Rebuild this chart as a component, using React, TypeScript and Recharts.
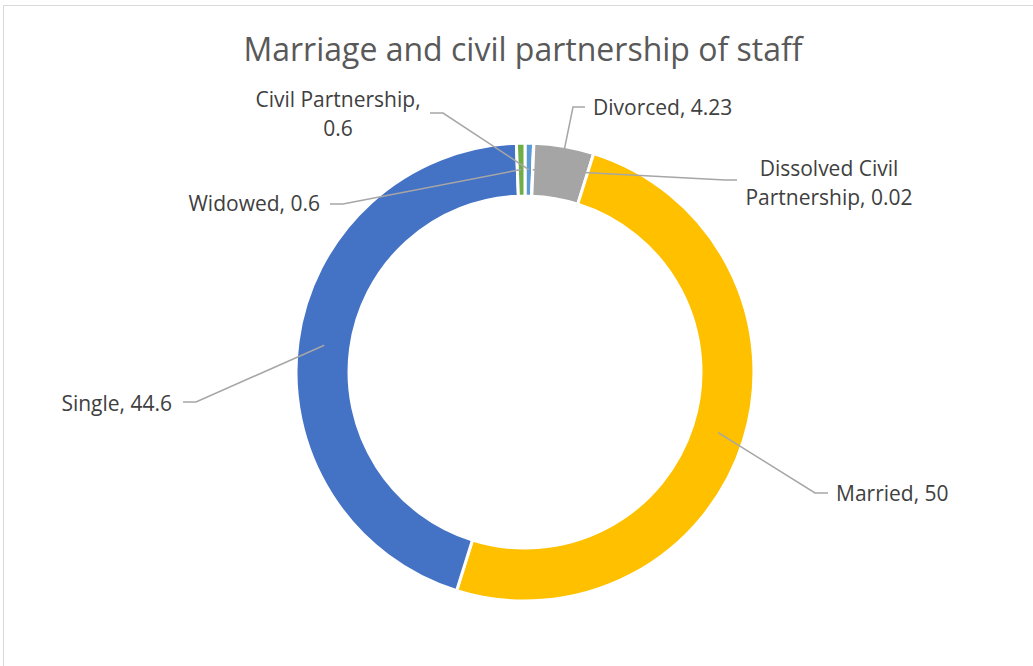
import { PieChart, Pie, Cell } from "recharts";

const categories = [
  "Civil Partnership",
  "Dissolved Civil Partnership",
  "Divorced",
  "Married",
  "Single",
  "Widowed",
];
const values = [0.6, 0.02, 4.23, 50, 44.6, 0.6];
const colors = ["#5B9BD5", "#ED7D31", "#A5A5A5", "#FFC000", "#4472C4", "#70AD47"];

const chartTitle = "Marriage and civil partnership of staff";

// where each data label sits (Excel moved them by hand)
const labelLayout: Record<
  string,
  { lines: string[]; x: number; y: number; anchor: "start" | "middle" | "end"; elbow: [number, number]; end: [number, number] }
> = {
  "Civil Partnership": { lines: ["Civil Partnership,", "0.6"], x: 338, y: 107, anchor: "middle", elbow: [443, 113], end: [430, 113] },
  "Dissolved Civil Partnership": { lines: ["Dissolved Civil", "Partnership, 0.02"], x: 829, y: 176, anchor: "middle", elbow: [725, 180], end: [737, 180] },
  Divorced: { lines: ["Divorced, 4.23"], x: 593, y: 115, anchor: "start", elbow: [573, 107], end: [585, 107] },
  Married: { lines: ["Married, 50"], x: 836, y: 501, anchor: "start", elbow: [815, 493], end: [828, 493] },
  Single: { lines: ["Single, 44.6"], x: 172, y: 411, anchor: "end", elbow: [196, 402], end: [183, 402] },
  Widowed: { lines: ["Widowed, 0.6"], x: 320, y: 211, anchor: "end", elbow: [343, 204], end: [330, 204] },
};

const data = categories.map((name, i) => ({ name, value: values[i] }));

const RAD = Math.PI / 180;

const renderLabel = (props: any) => {
  const { cx, cy, midAngle, innerRadius, outerRadius, name } = props;
  const lay = labelLayout[name];
  if (!lay) return null;
  const r = (innerRadius + outerRadius) / 2;
  const ax = cx + r * Math.cos(-midAngle * RAD);
  const ay = cy + r * Math.sin(-midAngle * RAD);
  return (
    <g>
      <polyline
        points={`${ax},${ay} ${lay.elbow[0]},${lay.elbow[1]} ${lay.end[0]},${lay.end[1]}`}
        fill="none"
        stroke="#A6A6A6"
        strokeWidth={1.5}
      />
      <text
        x={lay.x}
        y={lay.y}
        textAnchor={lay.anchor}
        fill="#404040"
        fontSize={21}
        fontFamily="'Open Sans', sans-serif"
      >
        {lay.lines.map((ln, i) => (
          <tspan key={i} x={lay.x} dy={i === 0 ? 0 : 29}>
            {ln}
          </tspan>
        ))}
      </text>
    </g>
  );
};

export default function App() {
  return (
    <div style={{ position: "absolute", left: 0, top: 0, width: 1033, height: 666, overflow: "hidden", background: "#fff" }}>
      <svg width={1033} height={666} style={{ position: "absolute", left: 0, top: 0 }}>
        <rect x={3.5} y={5.5} width={1100} height={700} fill="#fff" stroke="#D9D9D9" strokeWidth={1} />
        <text
          x={523}
          y={61}
          textAnchor="middle"
          fill="#595959"
          fontSize={32}
          fontFamily="'Open Sans', sans-serif"
        >
          {chartTitle}
        </text>
      </svg>
      <div style={{ position: "absolute", left: 0, top: 0 }}>
        <PieChart width={1033} height={666} margin={{ top: 0, right: 0, bottom: 0, left: 0 }}>
          <Pie
            data={data}
            dataKey="value"
            nameKey="name"
            cx={525}
            cy={372}
            innerRadius={176}
            outerRadius={229}
            startAngle={90}
            endAngle={-270}
            stroke="#fff"
            strokeWidth={3}
            label={renderLabel}
            labelLine={false}
            isAnimationActive={false}
          >
            {data.map((d, i) => (
              <Cell key={d.name} fill={colors[i]} />
            ))}
          </Pie>
        </PieChart>
      </div>
    </div>
  );
}
